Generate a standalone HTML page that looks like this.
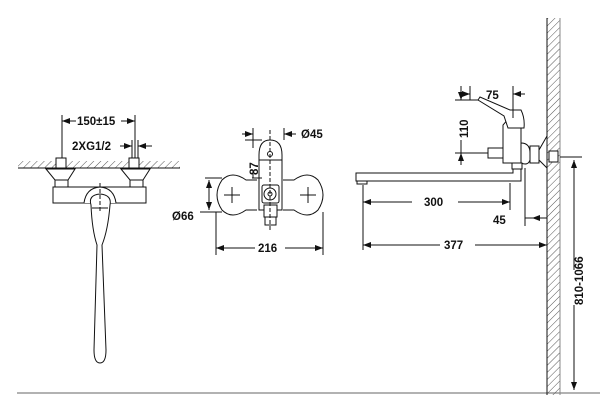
<!DOCTYPE html>
<html><head><meta charset="utf-8"><style>
html,body{margin:0;padding:0;background:#fff;}
svg{display:block}
text{font-family:"Liberation Sans",sans-serif;font-weight:bold;font-size:11.5px;fill:#111}
</style></head><body>
<svg width="613" height="412" viewBox="0 0 613 412" xmlns="http://www.w3.org/2000/svg">
<defs>
<pattern id="h" width="5" height="5" patternUnits="userSpaceOnUse" patternTransform="rotate(45)">
<line x1="0" y1="0" x2="0" y2="5" stroke="#555" stroke-width="1"/>
</pattern>
<marker id="a" markerWidth="8" markerHeight="6" refX="8" refY="3" orient="auto-start-reverse" markerUnits="userSpaceOnUse">
<path d="M0,0 L8,3 L0,6z" fill="#111"/></marker>
</defs>
<g stroke="#111" stroke-width="1" fill="none">
<line x1="17" y1="393" x2="600" y2="393" stroke="#666"/>
<rect x="547" y="18" width="13" height="377" fill="url(#h)" stroke="none"/>
<line x1="547" y1="18" x2="547" y2="395"/><line x1="560" y1="18" x2="560" y2="395" stroke="#888"/>
<line x1="560" y1="157" x2="582" y2="157"/>
<line x1="574" y1="160" x2="574" y2="270" marker-start="url(#a)"/>
<line x1="574" y1="305" x2="574" y2="390" marker-end="url(#a)"/>

<!-- LEFT VIEW -->
<rect x="18" y="161" width="162" height="7" fill="url(#h)" stroke="none"/>
<line x1="18" y1="168" x2="180" y2="168"/>
<rect x="56" y="158" width="10" height="10" fill="#fff"/>
<rect x="129" y="158" width="10" height="10" fill="#fff"/>
<path d="M46,169 L75,169 L68,180 L55,180 Z M121,169 L150,169 L143,180 L130,180 Z" fill="#fff"/>
<rect x="55" y="180" width="13" height="7" fill="#fff"/><rect x="130" y="180" width="13" height="7" fill="#fff"/>
<rect x="53" y="187" width="93" height="16" fill="#fff"/>
<path d="M84,203 Q86,188 100,187 Q114,188 116,203" fill="#fff"/>
<path d="M91,205 Q88,195 100,194 Q112,195 110,205 Q108,230 102,245 L106,350 Q106,363 100,363 Q94,363 94,350 L97,245 Q92,230 91,205 Z" fill="#fff"/>
<line x1="92" y1="208" x2="108" y2="208"/>
<line x1="100" y1="183" x2="100" y2="212" stroke-dasharray="4 2"/>
<line x1="62" y1="115" x2="62" y2="158"/><line x1="135" y1="115" x2="135" y2="158"/>
<line x1="62" y1="121" x2="76" y2="121" marker-start="url(#a)"/>
<line x1="121" y1="121" x2="135" y2="121" marker-end="url(#a)"/>
<line x1="132" y1="140" x2="132" y2="158"/><line x1="138" y1="140" x2="138" y2="158"/>
<line x1="120" y1="146" x2="132" y2="146" marker-end="url(#a)"/>
<line x1="138" y1="146" x2="152" y2="146" marker-start="url(#a)"/>

<!-- MIDDLE VIEW -->
<path d="M257,180 L246,180 Q232,170 222,180 Q212,195 222,210 Q232,220 246,210 L257,210" fill="#fff"/>
<path d="M283,180 L294,180 Q308,170 318,180 Q328,195 318,210 Q308,220 294,210 L283,210" fill="#fff"/>
<line x1="224" y1="195" x2="240" y2="195"/><line x1="232" y1="187" x2="232" y2="203"/>
<line x1="300" y1="195" x2="316" y2="195"/><line x1="308" y1="187" x2="308" y2="203"/>
<path d="M259,210 L259,155 Q259,140 270,140 Q282,140 282,155 L282,210 Z" fill="#fff"/>
<line x1="259" y1="160" x2="282" y2="160"/>
<circle cx="270" cy="154" r="2.5" fill="#fff"/>
<rect x="262" y="185" width="17" height="18" rx="2" fill="#fff"/>
<circle cx="270" cy="194" r="6" fill="#fff"/><circle cx="270" cy="194" r="2"/>
<rect x="264" y="205" width="13" height="12" fill="#fff"/>
<rect x="265" y="217" width="11" height="8" fill="#fff"/>
<line x1="270" y1="130" x2="270" y2="230" stroke-dasharray="4 2"/>
<line x1="253" y1="128" x2="253" y2="140"/><line x1="284" y1="128" x2="284" y2="140"/>
<line x1="242" y1="134" x2="253" y2="134" marker-end="url(#a)"/>
<line x1="284" y1="134" x2="296" y2="134" marker-start="url(#a)"/>
<line x1="245" y1="140" x2="262" y2="140"/>
<line x1="252" y1="178" x2="262" y2="178"/>
<line x1="253" y1="140" x2="253" y2="148"/>
<line x1="253" y1="170" x2="253" y2="178"/>
<line x1="205" y1="178" x2="222" y2="178"/><line x1="205" y1="212" x2="222" y2="212"/>
<line x1="209" y1="180" x2="209" y2="210" marker-start="url(#a)" marker-end="url(#a)"/>
<line x1="200" y1="212" x2="209" y2="212"/>
<line x1="216" y1="212" x2="216" y2="255"/><line x1="323" y1="212" x2="323" y2="255"/>
<line x1="216" y1="248" x2="255" y2="248" marker-start="url(#a)"/>
<line x1="285" y1="248" x2="323" y2="248" marker-end="url(#a)"/>

<!-- RIGHT VIEW -->
<path d="M356,173 L513,173 L513,163 L521,163 L521,181 L356,181 Z" fill="#fff"/>
<rect x="357" y="181" width="10" height="3" fill="#fff"/>
<path d="M503,163 L503,125 L509,118 L521,118 L521,163 Z" fill="#fff"/>
<path d="M478,100 L480,97 L510,110 L521,110 Q525,118 524,128 L508,128 L504,116 Z" fill="#fff"/>
<rect x="488" y="148" width="15" height="10" fill="#fff"/>
<path d="M521,143 Q530,143 530,153 L530,160 Q528,166 521,163 Z" fill="#fff"/>
<rect x="530" y="146" width="9" height="17" fill="#fff"/>
<path d="M539,150 L547,136 L547,168 L539,160 Z" fill="#fff"/>
<rect x="549" y="151" width="9" height="11" fill="#fff"/>
<rect x="512" y="163" width="10" height="6" fill="#fff"/>
<line x1="470" y1="86" x2="470" y2="100"/><line x1="513" y1="86" x2="513" y2="118"/>
<line x1="459" y1="94" x2="470" y2="94" marker-end="url(#a)"/>
<line x1="513" y1="94" x2="525" y2="94" marker-start="url(#a)"/>
<line x1="455" y1="100" x2="478" y2="100"/><line x1="455" y1="153" x2="488" y2="153"/>
<line x1="461" y1="86" x2="461" y2="100" marker-end="url(#a)"/>
<line x1="461" y1="165" x2="461" y2="153" marker-end="url(#a)"/>
<line x1="461" y1="140" x2="461" y2="153"/>
<line x1="363" y1="185" x2="363" y2="250"/><line x1="510" y1="183" x2="510" y2="210"/>
<line x1="525" y1="168" x2="525" y2="226"/>
<line x1="363" y1="202" x2="412" y2="202" marker-start="url(#a)"/>
<line x1="458" y1="202" x2="510" y2="202" marker-end="url(#a)"/>
<line x1="547" y1="218" x2="532" y2="218" marker-end="url(#a)"/>
<line x1="525" y1="218" x2="532" y2="218"/>
<line x1="363" y1="245" x2="440" y2="245" marker-start="url(#a)"/>
<line x1="475" y1="245" x2="547" y2="245" marker-end="url(#a)"/>
</g>
<text x="486" y="99">75</text>
<text x="77" y="125">150±15</text>
<text x="72" y="150">2XG1/2</text>
<text x="301" y="138">Ø45</text>
<text x="172" y="220">Ø66</text>
<text x="258" y="252">216</text>
<text x="424" y="206">300</text>
<text x="493" y="224">45</text>
<text x="444" y="249">377</text>
<text transform="translate(258,175) rotate(-90)">87</text>
<text transform="translate(468,138) rotate(-90)">110</text>
<text transform="translate(583,305) rotate(-90)">810-1066</text>
</svg>
</body></html>
